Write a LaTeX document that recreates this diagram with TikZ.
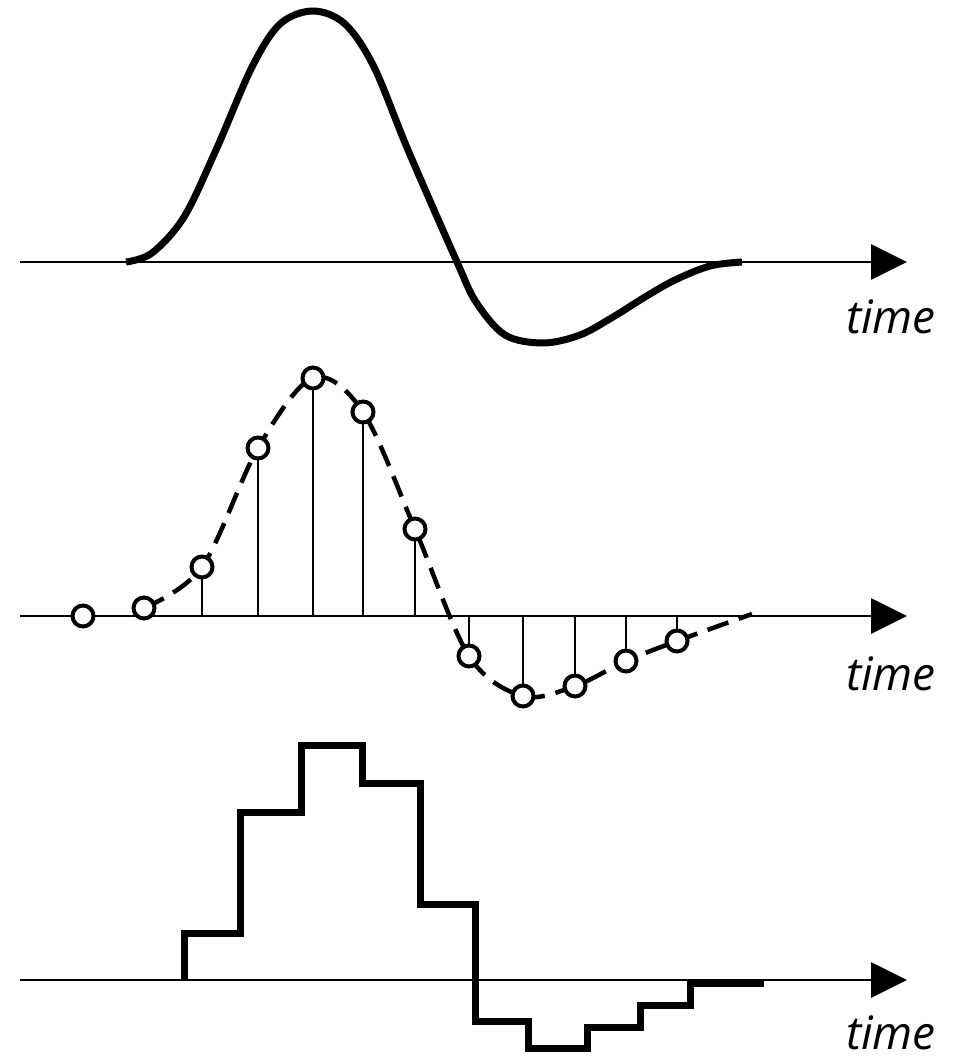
\documentclass[tikz,border=0pt]{standalone}
\usepackage{fontspec}
\setsansfont{Open Sans}
\usetikzlibrary{arrows.meta}
\begin{document}
\begin{tikzpicture}[x=1pt,y=-1pt,
  axisline/.style={line width=2.8pt,-{Triangle[length=36pt,width=35pt]}},
  wave/.style={line width=7pt,line join=round},
  dashwave/.style={line width=4.5pt,dash pattern=on 22pt off 11pt},
  stemline/.style={line width=2.6pt},
  samp/.style={circle,draw,fill=white,line width=4pt,minimum size=21pt,inner sep=0pt},
  stair/.style={line width=7pt,line join=miter},
  lbl/.style={font=\sffamily\itshape\fontsize{46}{46}\selectfont,inner sep=0pt,anchor=base east}]
\useasboundingbox (0,0) rectangle (961,1059);
% ---------- top panel ----------
\coordinate (ta) at (20,262);
\coordinate (tb) at (907,262);
\draw[axisline] (ta) -- (tb);
\draw[wave] plot[smooth,tension=0.55] coordinates{
 (126,262) (152,253) (184,217) (216,150) (252,67) (280,24) (313,11) (345,24) (374,67) (408,150)
 (457,262) (476,302) (505,335) (543,343) (580,335) (613,317) (645,297) (675,280) (710,266) (742,262)};
\node[lbl] (tl) at (936,333) {time};
% ---------- middle panel ----------
\coordinate (ma) at (20,616);
\coordinate (mb) at (907,616);
\draw[axisline] (ma) -- (mb);
\coordinate (p1) at (83,616);
\coordinate (p2) at (144,608);
\coordinate (p3) at (202,567);
\coordinate (p4) at (258,448);
\coordinate (p5) at (313,378);
\coordinate (p6) at (363,412);
\coordinate (p7) at (415,529);
\coordinate (p8) at (469,656);
\coordinate (p9) at (523,696);
\coordinate (p10) at (575,686);
\coordinate (p11) at (626,661);
\coordinate (p12) at (677,641);
\coordinate (pe) at (752,614);
\draw[dashwave] plot[smooth,tension=0.55] coordinates{
 (p2) (p3) (p4) (p5) (p6) (p7) (p8) (p9) (p10) (p11) (p12) (pe)};
\foreach \i in {3,...,12}{\draw[stemline] (p\i) -- (p\i |- ma);}
\foreach \i in {1,...,12}{\node[samp] (s\i) at (p\i) {};}
\node[lbl] (ml) at (936,690) {time};
% ---------- bottom panel ----------
\coordinate (ba) at (20,980);
\coordinate (bb) at (907,980);
\draw[axisline] (ba) -- (bb);
\draw[stair] (184,980) -- (184,933) -- (240,933) -- (240,812) -- (301,812) -- (301,745)
  -- (362,745) -- (362,783) -- (420,783) -- (420,904) -- (475,904) -- (475,1021)
  -- (528,1021) -- (528,1048) -- (587,1048) -- (587,1027) -- (640,1027) -- (640,1005)
  -- (690,1005) -- (690,983) -- (764,983);
\node[lbl] (bl) at (936,1049) {time};
\end{tikzpicture}
\end{document}
